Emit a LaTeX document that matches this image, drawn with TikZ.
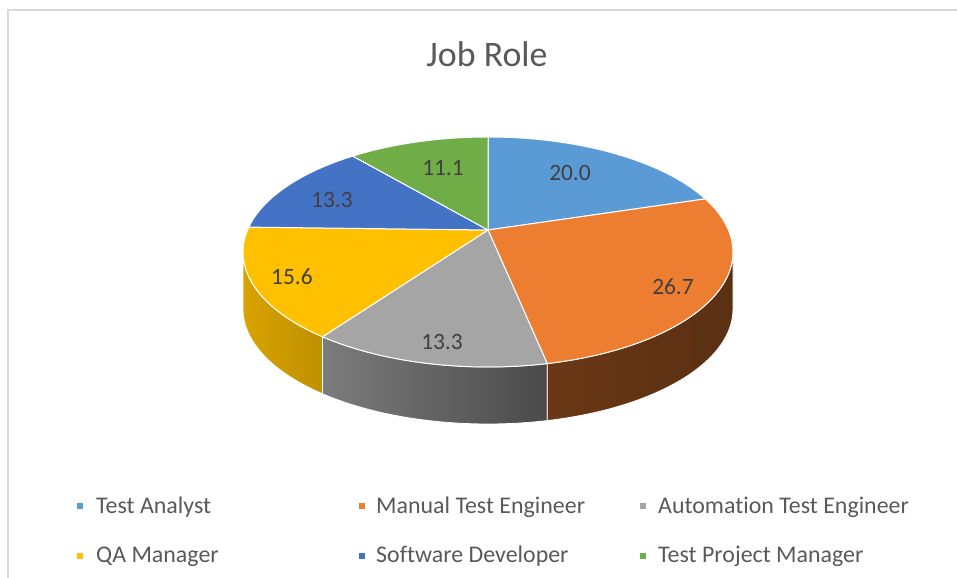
\documentclass[tikz,border=0pt]{standalone}
\usepackage{fontspec}
\setmainfont{Carlito}[Ligatures=NoCommon]

\definecolor{analyst}{HTML}{5B9BD5}
\definecolor{manual}{HTML}{ED7D31}
\definecolor{automation}{HTML}{A5A5A5}
\definecolor{qamanager}{HTML}{FFC000}
\definecolor{developer}{HTML}{4472C4}
\definecolor{projectmgr}{HTML}{70AD47}
\definecolor{framegray}{HTML}{D9D9D9}
\definecolor{titlegray}{HTML}{595959}
\definecolor{labelgray}{HTML}{404040}

\tikzset{
  pie/.style={x radius=245, y radius=115},
  slice/.style={draw=white, line width=1bp, line join=round},
  side/.style={draw=white, line width=0.8bp},
  charttitle/.style={anchor=base, text=titlegray, font=\fontsize{36}{40}\selectfont},
  lbl/.style={text=labelgray, font=\fontsize{23.5}{27}\selectfont},
  legmark/.style={minimum size=5.5bp, inner sep=0},
  legtext/.style={anchor=base west, inner sep=0, text=titlegray, font=\fontsize{24}{28}\selectfont},
}

\begin{document}
\begin{tikzpicture}[x=1bp,y=1bp]
\useasboundingbox (0,0) rectangle (957,578);
\draw[color=framegray, line width=1.5bp] (8,0) -- (8,568) -- (957,568);

\node[charttitle] (title) at (487,511) {Job Role};

\coordinate (c) at (488,326);
\coordinate (o) at (488,348);

% sides of the pie
\path[side, left color=qamanager!85!black, right color=qamanager!75!black]
  ([shift={(180:245 and 115)}]c) arc[pie, start angle=180, end angle=227.5]
  -- ++(0,-57) arc[pie, start angle=227.5, end angle=180] -- cycle;
\path[side, left color=automation!75!black, right color=automation!45!black]
  ([shift={(227.5:245 and 115)}]c) arc[pie, start angle=227.5, end angle=284]
  -- ++(0,-57) arc[pie, start angle=284, end angle=227.5] -- cycle;
\path[side, left color=manual!45!black, right color=manual!38!black]
  ([shift={(284:245 and 115)}]c) arc[pie, start angle=284, end angle=360]
  -- ++(0,-57) arc[pie, start angle=360, end angle=284] -- cycle;

% top of the pie
\filldraw[slice, fill=analyst] (o) -- ([shift={(27.5:245 and 115)}]c)
  arc[pie, start angle=27.5, end angle=90] -- cycle;
\filldraw[slice, fill=manual] (o) -- ([shift={(-76:245 and 115)}]c)
  arc[pie, start angle=-76, end angle=27.5] -- cycle;
\filldraw[slice, fill=automation] (o) -- ([shift={(-132.5:245 and 115)}]c)
  arc[pie, start angle=-132.5, end angle=-76] -- cycle;
\filldraw[slice, fill=qamanager] (o) -- ([shift={(167.5:245 and 115)}]c)
  arc[pie, start angle=167.5, end angle=227.5] -- cycle;
\filldraw[slice, fill=developer] (o) -- ([shift={(123.5:245 and 115)}]c)
  arc[pie, start angle=123.5, end angle=167.5] -- cycle;
\filldraw[slice, fill=projectmgr] (o) -- ([shift={(90:245 and 115)}]c)
  arc[pie, start angle=90, end angle=123.5] -- cycle;

\node[lbl] (vanalyst) at (570,405) {20.0};
\node[lbl] (vmanual) at (673,291) {26.7};
\node[lbl] (vautomation) at (442,236) {13.3};
\node[lbl] (vqamanager) at (292,301) {15.6};
\node[lbl] (vdeveloper) at (332,378) {13.3};
\node[lbl] (vprojectmgr) at (443,410) {11.1};

% legend
\node[legmark, fill=analyst] (manalyst) at (80,72) {};
\node[legtext] (tanalyst) at (96,64) {Test Analyst};
\node[legmark, fill=manual] (mmanual) at (362,72) {};
\node[legtext] (tmanual) at (376,64) {Manual Test Engineer};
\node[legmark, fill=automation] (mautomation) at (643,72) {};
\node[legtext] (tautomation) at (658,64) {Automation Test Engineer};
\node[legmark, fill=qamanager] (mqamanager) at (80,22) {};
\node[legtext] (tqamanager) at (96,15) {QA Manager};
\node[legmark, fill=developer] (mdeveloper) at (362,22) {};
\node[legtext] (tdeveloper) at (376,15) {Software Developer};
\node[legmark, fill=projectmgr] (mprojectmgr) at (643,22) {};
\node[legtext] (tprojectmgr) at (658,15) {Test Project Manager};
\end{tikzpicture}
\end{document}
